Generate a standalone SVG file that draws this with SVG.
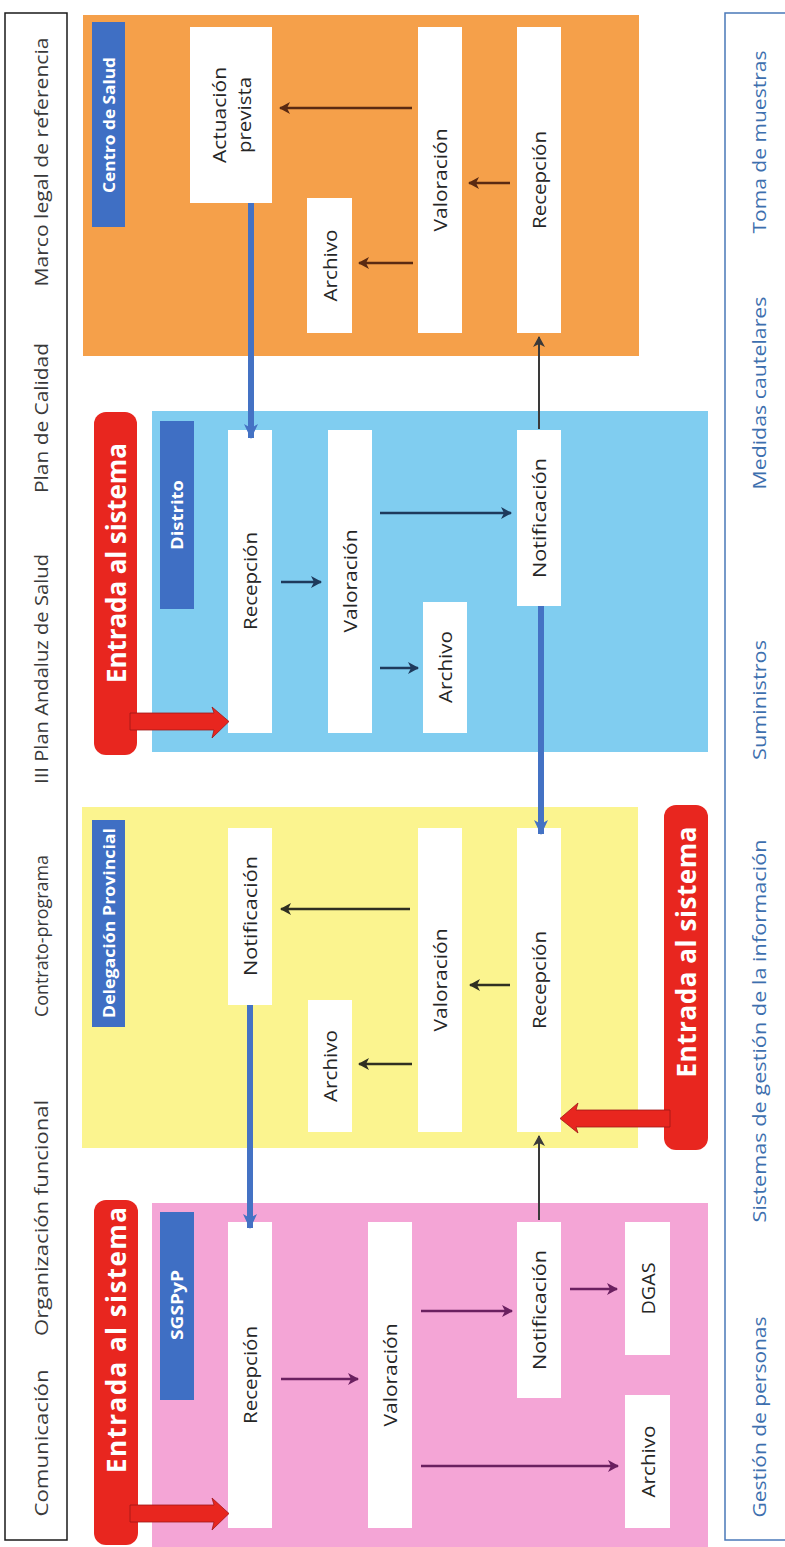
<svg xmlns="http://www.w3.org/2000/svg" width="785" height="1547" viewBox="0 0 785 1547">
<style>
.side{font-family:"Open Sans","Liberation Sans",sans-serif;font-size:18px;fill:#3a3a3a}
.sideR{font-family:"Open Sans","Liberation Sans",sans-serif;font-size:18px;fill:#3d6fae}
.box{fill:#ffffff}
.t{font-family:"Open Sans","Liberation Sans",sans-serif;font-size:19px;fill:#262626}
.ttl{font-family:"Open Sans","Liberation Sans",sans-serif;font-size:16px;font-weight:bold;fill:#ffffff}
.ent{font-family:"Open Sans","Liberation Sans",sans-serif;font-size:26px;font-weight:bold;fill:#ffffff}
.tr{fill:#3f6fc4}
.red{fill:#e8261f}
.a1{stroke:#5a2a12;stroke-width:2.5;fill:none;marker-end:url(#m1)}
.a2{stroke:#1e3a5c;stroke-width:2.5;fill:none;marker-end:url(#m2)}
.a3{stroke:#2f2f22;stroke-width:2.5;fill:none;marker-end:url(#m3)}
.a4{stroke:#6a2060;stroke-width:2.5;fill:none;marker-end:url(#m4)}
.ag{stroke:#3a3a3a;stroke-width:2;fill:none;marker-end:url(#mg)}
.ab{stroke:#4472c4;stroke-width:6;fill:none;marker-end:url(#mb)}
</style>
<defs>
<marker id="m1" markerUnits="userSpaceOnUse" markerWidth="12" markerHeight="12" refX="10" refY="6" orient="auto"><path d="M0,0 L11,6 L0,12 L3,6 Z" fill="#5a2a12"/></marker>
<marker id="m2" markerUnits="userSpaceOnUse" markerWidth="12" markerHeight="12" refX="10" refY="6" orient="auto"><path d="M0,0 L11,6 L0,12 L3,6 Z" fill="#1e3a5c"/></marker>
<marker id="m3" markerUnits="userSpaceOnUse" markerWidth="12" markerHeight="12" refX="10" refY="6" orient="auto"><path d="M0,0 L11,6 L0,12 L3,6 Z" fill="#2f2f22"/></marker>
<marker id="m4" markerUnits="userSpaceOnUse" markerWidth="12" markerHeight="12" refX="10" refY="6" orient="auto"><path d="M0,0 L11,6 L0,12 L3,6 Z" fill="#6a2060"/></marker>
<marker id="mg" markerUnits="userSpaceOnUse" markerWidth="12" markerHeight="12" refX="10" refY="6" orient="auto"><path d="M0,0 L11,6 L0,12 L3,6 Z" fill="#3a3a3a"/></marker>
<marker id="mb" markerUnits="userSpaceOnUse" markerWidth="16" markerHeight="16" refX="14" refY="8" orient="auto"><path d="M0,1 L15,8 L0,15 L4,8 Z" fill="#4472c4"/></marker>
</defs>
<rect width="785" height="1547" fill="#ffffff"/>

<g id="frame-left">
<rect x="5" y="13" width="62" height="1527" fill="none" stroke="#1a1a1a" stroke-width="1.5"/>
<text class="side" transform="translate(41,162) rotate(-90)" text-anchor="middle" dominant-baseline="central" textLength="249" lengthAdjust="spacingAndGlyphs">Marco legal de referencia</text>
<text class="side" transform="translate(41,418) rotate(-90)" text-anchor="middle" dominant-baseline="central" textLength="150" lengthAdjust="spacingAndGlyphs">Plan de Calidad</text>
<text class="side" transform="translate(41,669) rotate(-90)" text-anchor="middle" dominant-baseline="central" textLength="230" lengthAdjust="spacingAndGlyphs">III Plan Andaluz de Salud</text>
<text class="side" transform="translate(41,936) rotate(-90)" text-anchor="middle" dominant-baseline="central" textLength="162" lengthAdjust="spacingAndGlyphs">Contrato-programa</text>
<text class="side" transform="translate(41,1218) rotate(-90)" text-anchor="middle" dominant-baseline="central" textLength="236" lengthAdjust="spacingAndGlyphs">Organización funcional</text>
<text class="side" transform="translate(41,1443) rotate(-90)" text-anchor="middle" dominant-baseline="central" textLength="147" lengthAdjust="spacingAndGlyphs">Comunicación</text>
</g>

<g id="frame-right">
<rect x="725" y="13" width="70" height="1527" fill="none" stroke="#4a78b8" stroke-width="1.5"/>
<text class="sideR" transform="translate(759,142) rotate(-90)" text-anchor="middle" dominant-baseline="central" textLength="183" lengthAdjust="spacingAndGlyphs">Toma de muestras</text>
<text class="sideR" transform="translate(759,393) rotate(-90)" text-anchor="middle" dominant-baseline="central" textLength="193" lengthAdjust="spacingAndGlyphs">Medidas cautelares</text>
<text class="sideR" transform="translate(759,700) rotate(-90)" text-anchor="middle" dominant-baseline="central" textLength="120" lengthAdjust="spacingAndGlyphs">Suministros</text>
<text class="sideR" transform="translate(759,1031) rotate(-90)" text-anchor="middle" dominant-baseline="central" textLength="383" lengthAdjust="spacingAndGlyphs">Sistemas de gestión de la información</text>
<text class="sideR" transform="translate(759,1417) rotate(-90)" text-anchor="middle" dominant-baseline="central" textLength="201" lengthAdjust="spacingAndGlyphs">Gestión de personas</text>
</g>

<g id="panel-centro">
<rect x="83" y="15" width="556" height="341" fill="#f5a04a"/>
<rect class="tr" x="92" y="22" width="33" height="205"/>
<text class="ttl" transform="translate(108.5,125) rotate(-90)" text-anchor="middle" dominant-baseline="central" textLength="136" lengthAdjust="spacingAndGlyphs">Centro de Salud</text>
</g>
<g id="panel-distrito">
<rect x="152" y="411" width="556" height="341" fill="#80cdf0"/>
<rect class="tr" x="160" y="421" width="34" height="188"/>
<text class="ttl" transform="translate(177,515) rotate(-90)" text-anchor="middle" dominant-baseline="central" textLength="70" lengthAdjust="spacingAndGlyphs">Distrito</text>
</g>
<g id="panel-delegacion">
<rect x="82" y="807" width="556" height="341" fill="#fbf48f"/>
<rect class="tr" x="92" y="820" width="33" height="207"/>
<text class="ttl" transform="translate(108.5,923) rotate(-90)" text-anchor="middle" dominant-baseline="central" textLength="190" lengthAdjust="spacingAndGlyphs">Delegación Provincial</text>
</g>
<g id="panel-sgspyp">
<rect x="152" y="1203" width="556" height="344" fill="#f4a5d6"/>
<rect class="tr" x="160" y="1212" width="34" height="188"/>
<text class="ttl" transform="translate(177,1305) rotate(-90)" text-anchor="middle" dominant-baseline="central" textLength="70" lengthAdjust="spacingAndGlyphs">SGSPyP</text>
</g>

<g id="c-actuacion"><rect class="box" x="190" y="27" width="82" height="176"/>
<text class="t" transform="translate(231,115) rotate(-90)" text-anchor="middle"><tspan x="0" y="-5" textLength="96" lengthAdjust="spacingAndGlyphs">Actuación</tspan><tspan x="0" y="20" textLength="76" lengthAdjust="spacingAndGlyphs">prevista</tspan></text></g>
<g id="c-archivo"><rect class="box" x="307" y="198" width="45" height="135"/>
<text class="t" transform="translate(329.5,265.5) rotate(-90)" text-anchor="middle" dominant-baseline="central" textLength="72" lengthAdjust="spacingAndGlyphs">Archivo</text></g>
<g id="c-valoracion"><rect class="box" x="418" y="27" width="44" height="306"/>
<text class="t" transform="translate(440,180) rotate(-90)" text-anchor="middle" dominant-baseline="central" textLength="103" lengthAdjust="spacingAndGlyphs">Valoración</text></g>
<g id="c-recepcion"><rect class="box" x="517" y="27" width="44" height="306"/>
<text class="t" transform="translate(539,180) rotate(-90)" text-anchor="middle" dominant-baseline="central" textLength="98" lengthAdjust="spacingAndGlyphs">Recepción</text></g>

<g id="d-recepcion"><rect class="box" x="228" y="430" width="44" height="303"/>
<text class="t" transform="translate(250,581) rotate(-90)" text-anchor="middle" dominant-baseline="central" textLength="98" lengthAdjust="spacingAndGlyphs">Recepción</text></g>
<g id="d-valoracion"><rect class="box" x="328" y="430" width="44" height="303"/>
<text class="t" transform="translate(350,581) rotate(-90)" text-anchor="middle" dominant-baseline="central" textLength="103" lengthAdjust="spacingAndGlyphs">Valoración</text></g>
<g id="d-archivo"><rect class="box" x="423" y="602" width="44" height="131"/>
<text class="t" transform="translate(445,667) rotate(-90)" text-anchor="middle" dominant-baseline="central" textLength="72" lengthAdjust="spacingAndGlyphs">Archivo</text></g>
<g id="d-notificacion"><rect class="box" x="517" y="430" width="44" height="176"/>
<text class="t" transform="translate(539,518) rotate(-90)" text-anchor="middle" dominant-baseline="central" textLength="120" lengthAdjust="spacingAndGlyphs">Notificación</text></g>

<g id="p-notificacion"><rect class="box" x="228" y="828" width="44" height="177"/>
<text class="t" transform="translate(250,916) rotate(-90)" text-anchor="middle" dominant-baseline="central" textLength="120" lengthAdjust="spacingAndGlyphs">Notificación</text></g>
<g id="p-archivo"><rect class="box" x="308" y="1000" width="44" height="132"/>
<text class="t" transform="translate(330,1066) rotate(-90)" text-anchor="middle" dominant-baseline="central" textLength="72" lengthAdjust="spacingAndGlyphs">Archivo</text></g>
<g id="p-valoracion"><rect class="box" x="418" y="828" width="44" height="304"/>
<text class="t" transform="translate(440,980) rotate(-90)" text-anchor="middle" dominant-baseline="central" textLength="103" lengthAdjust="spacingAndGlyphs">Valoración</text></g>
<g id="p-recepcion"><rect class="box" x="517" y="828" width="44" height="304"/>
<text class="t" transform="translate(539,980) rotate(-90)" text-anchor="middle" dominant-baseline="central" textLength="98" lengthAdjust="spacingAndGlyphs">Recepción</text></g>

<g id="s-recepcion"><rect class="box" x="228" y="1222" width="44" height="306"/>
<text class="t" transform="translate(250,1375) rotate(-90)" text-anchor="middle" dominant-baseline="central" textLength="98" lengthAdjust="spacingAndGlyphs">Recepción</text></g>
<g id="s-valoracion"><rect class="box" x="368" y="1222" width="44" height="306"/>
<text class="t" transform="translate(390,1375) rotate(-90)" text-anchor="middle" dominant-baseline="central" textLength="103" lengthAdjust="spacingAndGlyphs">Valoración</text></g>
<g id="s-notificacion"><rect class="box" x="517" y="1222" width="44" height="176"/>
<text class="t" transform="translate(539,1310) rotate(-90)" text-anchor="middle" dominant-baseline="central" textLength="120" lengthAdjust="spacingAndGlyphs">Notificación</text></g>
<g id="s-dgas"><rect class="box" x="625" y="1222" width="45" height="133"/>
<text class="t" transform="translate(647.5,1288.5) rotate(-90)" text-anchor="middle" dominant-baseline="central" textLength="52" lengthAdjust="spacingAndGlyphs">DGAS</text></g>
<g id="s-archivo"><rect class="box" x="625" y="1395" width="45" height="133"/>
<text class="t" transform="translate(647.5,1461.5) rotate(-90)" text-anchor="middle" dominant-baseline="central" textLength="72" lengthAdjust="spacingAndGlyphs">Archivo</text></g>

<g id="entrada-distrito">
<rect class="red" x="94" y="412" width="43" height="343" rx="12"/>
<path class="red" d="M130,713 L214,713 L212,707 L229,721.5 L212,738 L214,730 L130,730 Z" stroke="#a01818" stroke-width="0.8"/>
<text class="ent" transform="translate(116,563) rotate(-90)" text-anchor="middle" dominant-baseline="central" textLength="240">Entrada al sistema</text>
</g>
<g id="entrada-delegacion">
<rect class="red" x="664" y="805" width="44" height="345" rx="12"/>
<path class="red" d="M670,1110 L576,1110 L578,1103 L560,1118.5 L578,1133 L576,1127 L670,1127 Z" stroke="#a01818" stroke-width="0.8"/>
<text class="ent" transform="translate(686,952) rotate(-90)" text-anchor="middle" dominant-baseline="central" textLength="251">Entrada al sistema</text>
</g>
<g id="entrada-sgspyp">
<rect class="red" x="94" y="1200" width="44" height="345" rx="12"/>
<path class="red" d="M130,1505 L214,1505 L212,1498 L229,1513.5 L212,1530 L214,1522 L130,1522 Z" stroke="#a01818" stroke-width="0.8"/>
<text class="ent" transform="translate(116,1340) rotate(-90)" text-anchor="middle" dominant-baseline="central" textLength="266">Entrada al sistema</text>
</g>

<g id="connectors">
<line class="a1" x1="412" y1="108" x2="280" y2="108"/>
<line class="a1" x1="510" y1="183" x2="469" y2="183"/>
<line class="a1" x1="413" y1="263" x2="359" y2="263"/>
<line class="a2" x1="281" y1="582" x2="321" y2="582"/>
<line class="a2" x1="380" y1="513" x2="511" y2="513"/>
<line class="a2" x1="380" y1="668" x2="418" y2="668"/>
<line class="a3" x1="410" y1="909" x2="281" y2="909"/>
<line class="a3" x1="510" y1="985" x2="470" y2="985"/>
<line class="a3" x1="412" y1="1064" x2="359" y2="1064"/>
<line class="a4" x1="281" y1="1379" x2="358" y2="1379"/>
<line class="a4" x1="421" y1="1311" x2="512" y2="1311"/>
<line class="a4" x1="570" y1="1289" x2="617" y2="1289"/>
<line class="a4" x1="421" y1="1466" x2="618" y2="1466"/>
<line class="ag" x1="539" y1="1220" x2="539" y2="1136"/>
<line class="ag" x1="539" y1="429" x2="539" y2="337"/>
<line class="ab" x1="251" y1="203" x2="251" y2="438"/>
<line class="ab" x1="541" y1="606" x2="541" y2="834"/>
<line class="ab" x1="250" y1="1005" x2="250" y2="1228"/>
</g>
</svg>
